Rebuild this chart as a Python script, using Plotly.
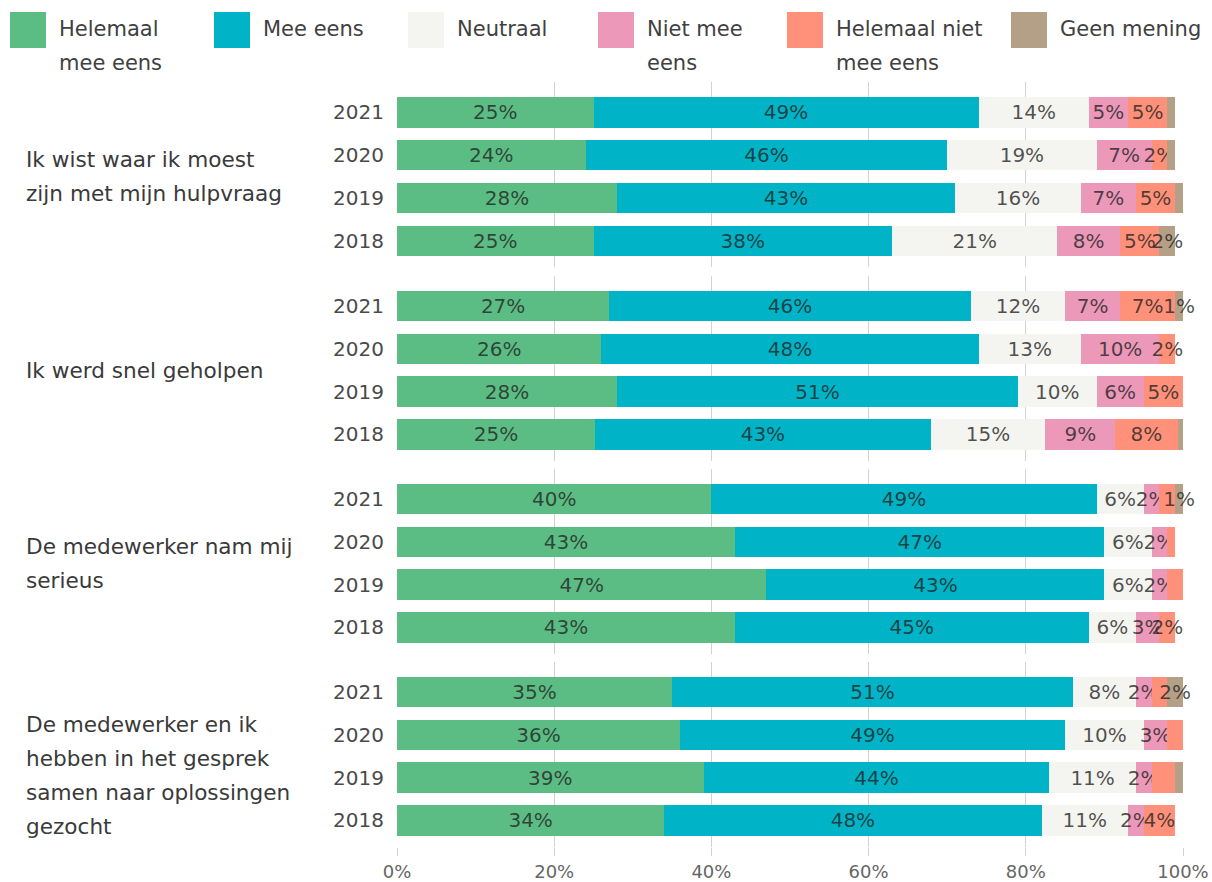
import plotly.graph_objects as go
from plotly.subplots import make_subplots

# ---------------- data ----------------
years = ["2021", "2020", "2019", "2018"]
questions = [
    ["Ik wist waar ik moest", "zijn met mijn hulpvraag"],
    ["Ik werd snel geholpen"],
    ["De medewerker nam mij", "serieus"],
    ["De medewerker en ik", "hebben in het gesprek", "samen naar oplossingen", "gezocht"],
]
categories = ["Helemaal mee eens", "Mee eens", "Neutraal", "Niet mee eens",
              "Helemaal niet mee eens", "Geen mening"]
legend_lines = [["Helemaal", "mee eens"], ["Mee eens"], ["Neutraal"],
                ["Niet mee", "eens"], ["Helemaal niet", "mee eens"], ["Geen mening"]]
colors = ["#5BBC84", "#00B3C6", "#F4F4F0", "#EC98B8", "#FF917A", "#B4A086"]

# order per question: 2021, 2020, 2019, 2018
helemaal_mee_eens = [25, 24, 28, 25,  27, 26, 28, 25.2,  40, 43, 47, 43,  35, 36, 39, 34]
mee_eens          = [49, 46, 43, 38,  46, 48, 51, 42.7,  49, 47, 43, 45,  51, 49, 44, 48]
neutraal          = [14, 19, 16, 21,  12, 13, 10, 14.6,   6,  6,  6,  6,   8, 10, 11, 11]
niet_mee_eens     = [ 5,  7,  7,  8,   7, 10,  6,  8.9,   2,  2,  2,  3,   2,  3,  2,  2]
helemaal_niet     = [ 5,  2,  5,  5,   7,  2,  5,  7.9,   2,  1,  2,  2,   2,  2,  3,  4]
geen_mening       = [ 1,  1,  1,  2,   1,  0,  0,  0.7,   1,  0,  0,  0,   2,  0,  1,  0]

# which value labels are visible in the original
show_helemaal = [1] * 16
show_mee      = [1] * 16
show_neutraal = [1] * 16
show_niet     = [1] * 16
show_helniet  = [1, 1, 1, 1,  1, 1, 1, 1,  0, 0, 0, 1,  0, 0, 0, 1]
show_geen     = [0, 0, 0, 1,  1, 0, 0, 1,  1, 0, 0, 0,  1, 0, 0, 0]

series = [helemaal_mee_eens, mee_eens, neutraal, niet_mee_eens, helemaal_niet, geen_mening]
shows = [show_helemaal, show_mee, show_neutraal, show_niet, show_helniet, show_geen]

x_ticks = [0, 20, 40, 60, 80, 100]
x_ticktext = ["0%", "20%", "40%", "60%", "80%", "100%"]

# ---------------- layout helpers (pixels) ----------------
W, H = 1212, 882
L, R, T, B = 397, 29, 82, 34
PW, PH = W - L - R, H - T - B
FONT = "DejaVu Sans"

def px_x(p):
    return (p - L) / PW

def px_y(p):
    return (H - B - p) / PH

group_tops = [82, 275.6, 468.6, 661.6]
group_h = 185.4

fig = make_subplots(rows=4, cols=1, shared_xaxes=True, vertical_spacing=0.01)

for g in range(4):
    sl = slice(g * 4, g * 4 + 4)
    for c in range(6):
        vals = series[c][sl]
        txt = [f"{v:.0f}%" if s and v > 0 else "" for v, s in zip(vals, shows[c][sl])]
        fig.add_trace(go.Bar(
            y=list(range(4)), x=vals, orientation="h",
            name=categories[c], marker=dict(color=colors[c], line=dict(width=0)),
            width=0.71, text=txt, textposition="inside", insidetextanchor="middle",
            textangle=0, textfont=dict(family=FONT, size=20, color="rgba(35,35,35,0.78)"),
            showlegend=False, hoverinfo="skip", cliponaxis=False,
        ), row=g + 1, col=1)

fig.update_layout(
    barmode="stack", width=W, height=H,
    margin=dict(l=L, r=R, t=T, b=B, autoexpand=False),
    plot_bgcolor="white", paper_bgcolor="white",
    uniformtext=dict(minsize=20, mode="show"),
    font=dict(family=FONT, size=20, color="#444"),
)

for g in range(4):
    top = group_tops[g]
    dom = [px_y(top + group_h), px_y(top)]
    dom = [max(0, dom[0]), min(1, dom[1])]
    ykey = "yaxis" if g == 0 else f"yaxis{g + 1}"
    xkey = "xaxis" if g == 0 else f"xaxis{g + 1}"
    fig.update_layout({
        ykey: dict(domain=dom, range=[3.62, -0.71], tickvals=list(range(4)), ticktext=years,
                   showgrid=False, zeroline=False, showline=False, ticks="",
                   ticklabelstandoff=12, automargin=False,
                   tickfont=dict(family=FONT, size=20, color="#4a4a4a")),
        xkey: dict(range=[0, 100], tickvals=x_ticks, ticktext=x_ticktext,
                   showgrid=True, gridcolor="#d2d2d2", gridwidth=1, zeroline=False,
                   showline=False, showticklabels=(g == 3), automargin=False,
                   ticks="outside" if g == 3 else "", ticklen=8, tickcolor="#d2d2d2",
                   ticklabelstandoff=0,
                   tickfont=dict(family=FONT, size=18, color="#666")),
    })

# ---------------- question labels ----------------
q_line_y = [[160, 194], [370], [546, 580], [724, 758, 792, 826]]
for g, lines in enumerate(questions):
    for line, py in zip(lines, q_line_y[g]):
        fig.add_annotation(text=line, xref="paper", yref="paper", x=px_x(24), y=px_y(py),
                           xanchor="left", yanchor="middle", showarrow=False,
                           font=dict(family=FONT, size=21.6, color="#3a3a3a"))

# ---------------- legend ----------------
sq_x = [10, 214, 408, 598, 787, 1011]
for c in range(6):
    fig.add_shape(type="rect", xref="paper", yref="paper",
                  x0=px_x(sq_x[c]), x1=px_x(sq_x[c] + 36), y0=px_y(48), y1=px_y(12),
                  fillcolor=colors[c], line=dict(width=0))
    for k, line in enumerate(legend_lines[c]):
        fig.add_annotation(text=line, xref="paper", yref="paper",
                           x=px_x(sq_x[c] + 47), y=px_y(29 + 34 * k),
                           xanchor="left", yanchor="middle", showarrow=False,
                           font=dict(family=FONT, size=21, color="#404040"))

fig.write_html("out.html")
